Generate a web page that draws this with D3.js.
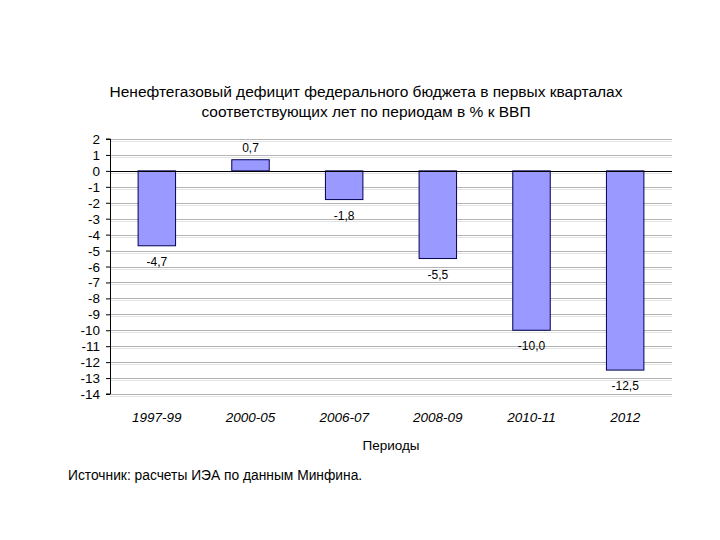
<!DOCTYPE html>
<html>
<head>
<meta charset="utf-8">
<script src="https://cdn.jsdelivr.net/npm/d3@7"></script>
<style>
  body { margin: 0; background: #fff; }
  svg { font-family: "Liberation Sans", Arial, sans-serif; }
</style>
</head>
<body>
<div id="chart"></div>
<script>
// Data
const periods = ['1997-99', '2000-05', '2006-07', '2008-09', '2010-11', '2012'];
const deficit = [-4.7, 0.7, -1.8, -5.5, -10.0, -12.5];
const valueLabels = ['-4,7', '0,7', '-1,8', '-5,5', '-10,0', '-12,5'];
const yTicks = [2, 1, 0, -1, -2, -3, -4, -5, -6, -7, -8, -9, -10, -11, -12, -13, -14];

const titleLines = [
  'Ненефтегазовый дефицит федерального бюджета в первых кварталах',
  'соответствующих лет по периодам в % к ВВП'
];
const xTitle = 'Периоды';
const sourceNote = 'Источник: расчеты ИЭА по данным Минфина.';

const width = 720, height = 540;
const margin = { top: 139, right: 48, bottom: 146, left: 110 };
const innerWidth = width - margin.left - margin.right;
const innerHeight = height - margin.top - margin.bottom;

const svg = d3.select('#chart')
  .append('svg')
  .attr('width', width)
  .attr('height', height);

// Title
svg.append('g')
  .selectAll('text')
  .data(titleLines)
  .enter()
  .append('text')
  .attr('x', 366)
  .attr('y', (d, i) => 97 + i * 20)
  .attr('text-anchor', 'middle')
  .attr('font-size', 15.5)
  .attr('fill', '#000')
  .text(d => d);

const g = svg.append('g')
  .attr('transform', `translate(${margin.left}, ${margin.top})`);

// Scales
const x = d3.scaleBand()
  .domain(periods)
  .range([0, innerWidth])
  .paddingInner(0.6)
  .paddingOuter(0.3);

const y = d3.scaleLinear()
  .domain([2, -14])
  .range([0, innerHeight]);

// Gridlines (double line like the original)
g.append('g')
  .selectAll('line.grid')
  .data(yTicks)
  .enter()
  .append('line')
  .attr('class', 'grid')
  .attr('x1', 0)
  .attr('x2', innerWidth)
  .attr('y1', d => Math.round(y(d)) + 0.5)
  .attr('y2', d => Math.round(y(d)) + 0.5)
  .attr('stroke', '#b4b4b4')
  .attr('stroke-width', 1);

g.append('g')
  .selectAll('line.grid2')
  .data(yTicks)
  .enter()
  .append('line')
  .attr('x1', 0)
  .attr('x2', innerWidth)
  .attr('y1', d => Math.round(y(d)) + 2.5)
  .attr('y2', d => Math.round(y(d)) + 2.5)
  .attr('stroke', '#e4e4e4')
  .attr('stroke-width', 1);

// Bars
g.append('g')
  .selectAll('rect')
  .data(deficit)
  .enter()
  .append('rect')
  .attr('x', (d, i) => x(periods[i]))
  .attr('y', d => y(Math.max(0, d)))
  .attr('width', x.bandwidth())
  .attr('height', d => Math.abs(y(d) - y(0)))
  .attr('fill', '#9999ff')
  .attr('stroke', '#000050')
  .attr('stroke-width', 1);

// Zero line
g.append('line')
  .attr('x1', 0)
  .attr('x2', innerWidth)
  .attr('y1', Math.round(y(0)) + 0.5)
  .attr('y2', Math.round(y(0)) + 0.5)
  .attr('stroke', '#000')
  .attr('stroke-width', 1.2);

// Value labels
g.append('g')
  .selectAll('text')
  .data(deficit)
  .enter()
  .append('text')
  .attr('x', (d, i) => x(periods[i]) + x.bandwidth() / 2)
  .attr('y', d => d < 0 ? y(d) + 20 : y(d) - 8)
  .attr('text-anchor', 'middle')
  .attr('font-size', 12)
  .attr('fill', '#000')
  .text((d, i) => valueLabels[i]);

// Y axis line and ticks (labels drawn separately)
const yAxis = d3.axisLeft(y)
  .tickValues(yTicks)
  .tickSize(4)
  .tickFormat('');

g.append('g')
  .attr('class', 'y-axis')
  .call(yAxis)
  .call(a => a.select('.domain').attr('stroke', '#000').attr('d', `M-4,${y(2)}H0.5V${y(-14)}H-4`))
  .call(a => a.selectAll('.tick line').attr('stroke', '#000'))
  .call(a => a.selectAll('.tick text').remove());

g.append('g')
  .selectAll('text')
  .data(yTicks)
  .enter()
  .append('text')
  .attr('x', -10)
  .attr('y', d => y(d) + 5)
  .attr('text-anchor', 'end')
  .attr('font-size', 13.5)
  .attr('fill', '#000')
  .text(d => String(d));

// X axis labels
g.append('g')
  .selectAll('text')
  .data(periods)
  .enter()
  .append('text')
  .attr('x', d => x(d) + x.bandwidth() / 2)
  .attr('y', innerHeight + 28)
  .attr('text-anchor', 'middle')
  .attr('font-size', 13.5)
  .attr('font-style', 'italic')
  .attr('fill', '#000')
  .text(d => d);

// X axis title
svg.append('text')
  .attr('x', 391)
  .attr('y', 450)
  .attr('text-anchor', 'middle')
  .attr('font-size', 13.5)
  .attr('fill', '#000')
  .text(xTitle);

// Source note
svg.append('text')
  .attr('x', 68)
  .attr('y', 480)
  .attr('font-size', 13.8)
  .attr('fill', '#000')
  .text(sourceNote);
</script>
</body>
</html>
